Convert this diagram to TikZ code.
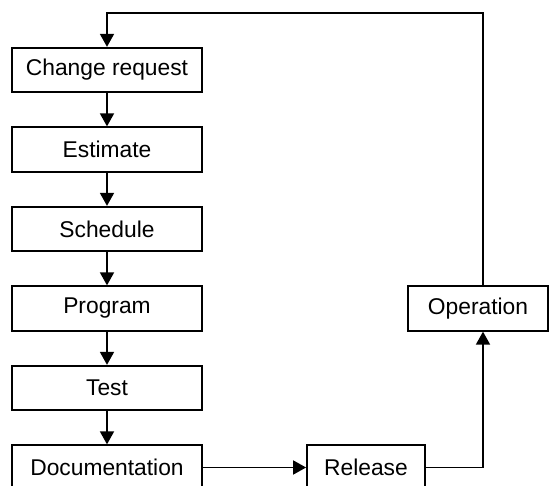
\documentclass[tikz,border=0pt]{standalone}
\usepackage{fontspec}
\setmainfont{Liberation Sans}
\usetikzlibrary{arrows.meta}

\begin{document}
\begin{tikzpicture}[x=1pt,y=-1pt]
    \pgfmathsetmacro{\colx}{107}
    \pgfmathsetmacro{\colwidth}{190}
    \pgfmathsetmacro{\boxheight}{44.5}
    \pgfmathsetmacro{\rowstep}{79.5}
    \pgfmathsetmacro{\firstrow}{70}
    \pgfmathsetmacro{\loopx}{483}
    \pgfmathsetmacro{\loopy}{13}
    \tikzset{
        box/.style={draw,line width=1.8pt,inner sep=0,minimum height=\boxheight pt,font=\fontsize{22.8}{27}\selectfont},
        arr/.style={line width=1.8pt,-{Triangle[length=13pt,width=14pt]}}
    }
    \useasboundingbox (0,0) rectangle (550,486);
    \node[box,minimum width=\colwidth pt](request) at (\colx,\firstrow){Change request};
    \node[box,minimum width=\colwidth pt](estimate) at (\colx,\firstrow+\rowstep){Estimate};
    \node[box,minimum width=\colwidth pt](schedule) at (\colx,\firstrow+2*\rowstep){Schedule};
    \node[box,minimum width=\colwidth pt](program) at (\colx,\firstrow+3*\rowstep){Program};
    \node[box,minimum width=\colwidth pt](test) at (\colx,\firstrow+4*\rowstep){Test};
    \node[box,minimum width=\colwidth pt](doc) at (\colx,\firstrow+5*\rowstep){Documentation};
    \node[box,minimum width=118pt](release) at (366,\firstrow+5*\rowstep){Release};
    \node[box,minimum width=140pt](operation) at (478,\firstrow+3*\rowstep){Operation};
    \coordinate (turn) at (\colx,\loopy);
    \draw[arr] (request) -- (estimate);
    \draw[arr] (estimate) -- (schedule);
    \draw[arr] (schedule) -- (program);
    \draw[arr] (program) -- (test);
    \draw[arr] (test) -- (doc);
    \draw[arr] (doc) -- (release);
    \draw[arr] (release.east) -| ([xshift=5pt]operation.south);
    \draw[arr] ([xshift=5pt]operation.north) |- (turn) -- (request.north);
\end{tikzpicture}
\end{document}
